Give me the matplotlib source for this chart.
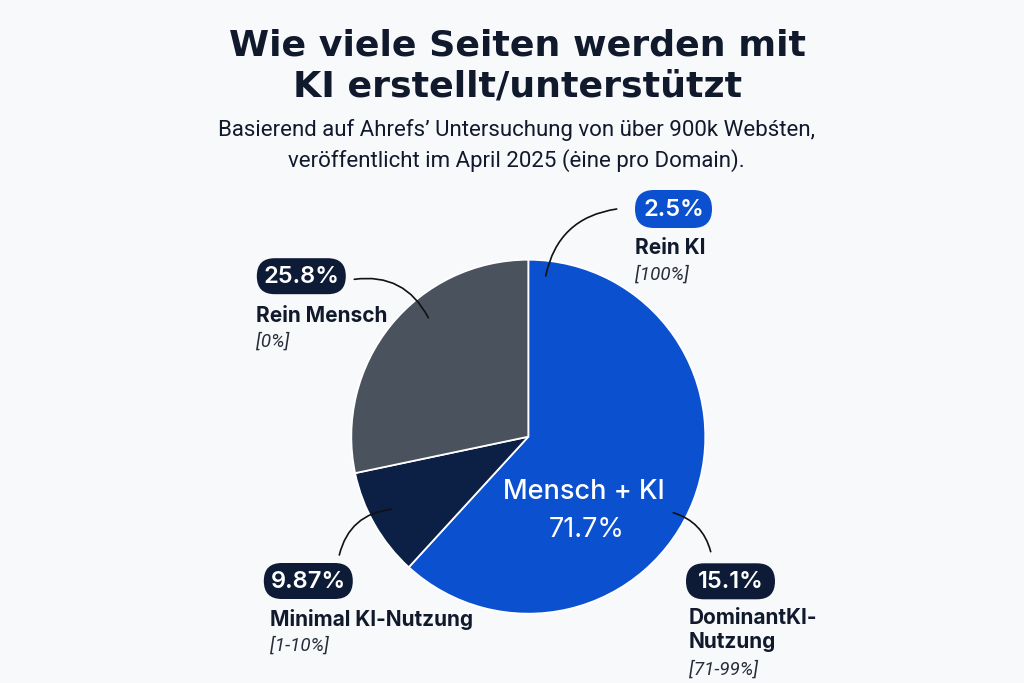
import matplotlib

matplotlib.use("Agg")
import matplotlib.pyplot as plt
from matplotlib.patches import FancyBboxPatch

# slices as drawn (share of the circle)
slice_names = ["Mensch + KI", "Minimal KI-Nutzung", "Rein Mensch"]
slice_shares = [61.8, 9.9, 28.3]
slice_colors = ["#0b50cf", "#0c1f45", "#4a525e"]

# callout labels
pill_values = ["2.5%", "25.8%", "9.87%", "15.1%"]
pill_names = ["Rein KI", "Rein Mensch", "Minimal KI-Nutzung", "DominantKI-\nNutzung"]
pill_ranges = ["[100%]", "[0%]", "[1-10%]", "[71-99%]"]
center_name = "Mensch + KI"
center_value = "71.7%"

title = "Wie viele Seiten werden mit\nKI erstellt/unterstützt"
subtitle = ("Basierend auf Ahrefs’ Untersuchung von über 900k Webśten,\n"
            "veröffentlicht im April 2025 (ėine pro Domain).")

W, H = 1024, 683
BG = "#f8f9fb"
INK = "#111a2d"


def Y(y):
    # image pixel row -> axes coordinate (y up)
    return H - y


fig = plt.figure(figsize=(W / 100, H / 100), dpi=100, facecolor=BG)
ax = fig.add_axes([0, 0, 1, 1])
ax.set_facecolor(BG)

ax.pie(slice_shares, colors=slice_colors, startangle=90, counterclock=False,
       center=(528.3, Y(436.7)), radius=177,
       wedgeprops=dict(edgecolor="white", linewidth=1.3))
ax.set_xlim(0, W)
ax.set_ylim(0, H)
ax.set_aspect("auto")
ax.axis("off")

fig.text(0.505, 1 - 66 / H, title, ha="center", va="center", fontsize=26.2,
         fontweight="bold", family="DejaVu Sans", color=INK, linespacing=1.27)
fig.text(0.504, 1 - 145.5 / H, subtitle, ha="center", va="center", fontsize=16,
         family="Roboto", color=INK, linespacing=1.5)

ax.text(583.7, Y(491.7), center_name, ha="center", va="center", fontsize=19.5,
        family="Inter", fontweight="medium", color="white")
ax.text(586.5, Y(530), center_value, ha="center", va="center", fontsize=19.5,
        family="Inter", color="white")

# pill geometry: center x, center y, width, height, fill
pills = [
    (673.5, 209, 77, 38, "#0b50cf"),
    (301.3, 276.2, 89, 36, "#0d1b36"),
    (308.3, 581, 89, 36, "#0d1b36"),
    (730.5, 581.3, 89, 36, "#0d1b36"),
]
# label left x, name center y, range center y
label_pos = [
    (635, 248, 275),
    (256, 316, 342),
    (270, 619, 646),
    (689, 630, 670),
]
# connector start, end (image px) and curvature
links = [
    ((545.7, 276), (616.7, 209), -0.35),
    ((354.3, 279.3), (428.3, 317.7), -0.35),
    ((339.3, 555), (391.7, 509.3), -0.35),
    ((673.3, 512.7), (710.7, 551.7), -0.28),
]

for val, name, rng, (cx, cy, w, h, fc), (lx, ny, ry), (p0, p1, rad) in zip(
        pill_values, pill_names, pill_ranges, pills, label_pos, links):
    ax.add_patch(FancyBboxPatch((cx - w / 2, Y(cy) - h / 2), w, h,
                                boxstyle=f"round,pad=0,rounding_size={h / 2}",
                                fc=fc, ec="none", zorder=5))
    ax.text(cx, Y(cy) - 1, val, ha="center", va="center", fontsize=17,
            family="Inter", fontweight="semibold", color="white", zorder=6)
    ax.text(lx, Y(ny), name, ha="left", va="center", fontsize=15,
            family="Inter", fontweight="bold", color=INK, linespacing=1.2)
    ax.text(lx, Y(ry), rng, ha="left", va="center", fontsize=13.5,
            family="Roboto", style="italic", color="#262d3b")
    ax.annotate("", xy=(p1[0], Y(p1[1])), xytext=(p0[0], Y(p0[1])),
                arrowprops=dict(arrowstyle="-", color="#111111", lw=1.2,
                                shrinkA=0, shrinkB=0,
                                connectionstyle=f"arc3,rad={rad}"))

fig.savefig("out.png", dpi=100, facecolor=BG)
